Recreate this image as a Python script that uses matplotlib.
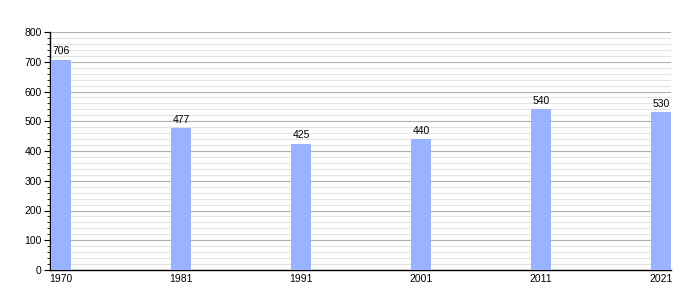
import matplotlib
matplotlib.use("Agg")
import matplotlib.pyplot as plt
from matplotlib.ticker import MultipleLocator

years = ["1970", "1981", "1991", "2001", "2011", "2021"]
population = [706, 477, 425, 440, 540, 530]

plt.rcParams['font.family'] = ['Liberation Sans', 'DejaVu Sans']

fig = plt.figure(figsize=(7, 3), dpi=100)
ax = fig.add_axes([50/700, 30/300, 621/700, 238/300])

x = list(range(len(years)))
ax.bar(x, population, width=1/6, color="#99b3ff", zorder=3)
for xi, v in zip(x, population):
    ax.text(xi, v + 12, str(v), ha="center", va="bottom", fontsize=7.5, zorder=4)

ax.set_xlim(-1/12 - 0.008, 5 + 1/12)
ax.set_ylim(0, 800)
ax.set_xticks(x)
ax.set_xticklabels(years)
ax.yaxis.set_major_locator(MultipleLocator(100))
ax.yaxis.set_minor_locator(MultipleLocator(20))
ax.grid(axis="y", which="major", color="#b0b0b0", linewidth=0.8, zorder=1)
ax.grid(axis="y", which="minor", color="#e4e4e4", linewidth=0.8, zorder=0)
ax.tick_params(axis="x", length=0, pad=3, labelsize=7.5)
ax.tick_params(axis="y", which="major", length=4, labelsize=7.5, pad=2)
ax.tick_params(axis="y", which="minor", length=2)
for s in ["top", "right"]:
    ax.spines[s].set_visible(False)
ax.spines["left"].set_linewidth(1)
ax.spines["bottom"].set_linewidth(1)

fig.savefig("out.png", dpi=100)
